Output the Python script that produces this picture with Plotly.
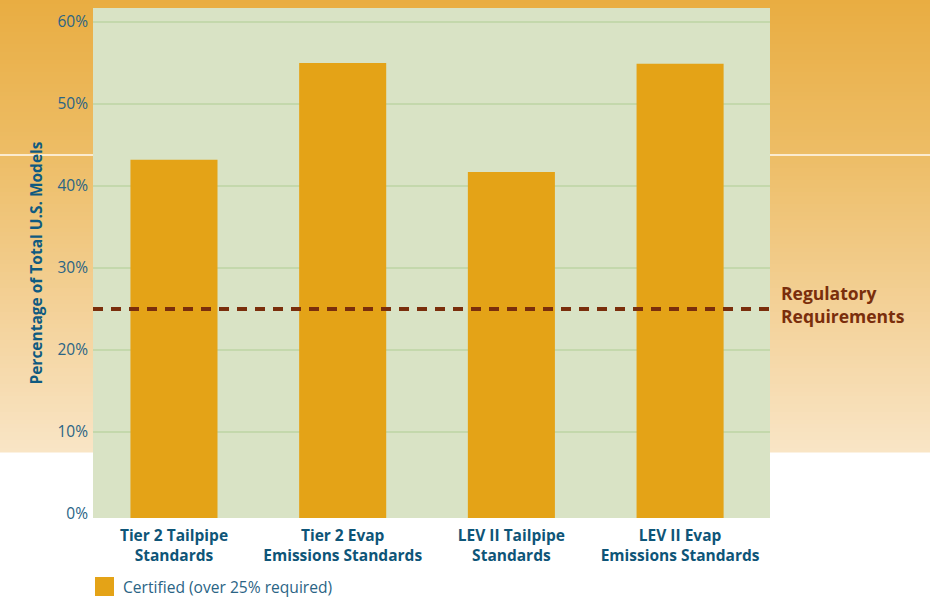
import plotly.graph_objects as go

# Data
categories = [
    "Tier 2 Tailpipe<br>Standards",
    "Tier 2 Evap<br>Emissions Standards",
    "LEV II Tailpipe<br>Standards",
    "LEV II Evap<br>Emissions Standards",
]
certified_pct = [43.2, 55.0, 41.7, 54.9]
regulatory_requirement = 25
series_name = "Certified (over 25% required)"
y_tick_vals = [0, 10, 20, 30, 40, 50, 60]
y_tick_text = ["0%", "10%", "20%", "30%", "40%", "50%", "60%"]

# Page geometry (pixels)
W, H = 930, 599
L, R, T, B = 93, 160, 8, 81
PLOT_W = W - L - R
PLOT_H = H - T - B
Y_MIN, Y_MAX = -0.49, 61.71

BAR_COLOR = "#E4A317"
PLOT_BG = "#D9E3C5"
GRID = "#C4D8AC"
TEXT_BLUE = "#2A6485"
TITLE_BLUE = "#0F5A80"
RED_BROWN = "#7A2E0C"
FONT = "Open Sans"


def px_x(px):
    return (px - L) / PLOT_W


def px_y(py):
    return (H - B - py) / PLOT_H


def lerp_color(c1, c2, t):
    a = [int(c1[i:i + 2], 16) for i in (1, 3, 5)]
    b = [int(c2[i:i + 2], 16) for i in (1, 3, 5)]
    return "#" + "".join(f"{round(a[i] + (b[i] - a[i]) * t):02X}" for i in range(3))


shapes = []

# Orange backdrop fading downward, ending above the axis labels
GRAD_END = 452
STEP = 4
stops = [(0, "#E9AD42"), (155, "#EDBD66"), (300, "#F3D095"), (GRAD_END, "#F9E5C6")]
for y0 in range(0, GRAD_END, STEP):
    y1 = min(y0 + STEP, GRAD_END)
    ym = (y0 + y1) / 2
    for (sa, ca), (sb, cb) in zip(stops[:-1], stops[1:]):
        if sa <= ym <= sb:
            col = lerp_color(ca, cb, (ym - sa) / (sb - sa))
            break
    shapes.append(dict(
        type="rect", xref="paper", yref="paper", layer="below",
        x0=px_x(0), x1=px_x(W), y0=px_y(y1 + 0.5), y1=px_y(y0),
        fillcolor=col, line=dict(width=0),
    ))

# Thin light rule across the backdrop
shapes.append(dict(
    type="line", xref="paper", yref="paper", layer="below",
    x0=px_x(0), x1=px_x(W), y0=px_y(155), y1=px_y(155),
    line=dict(color="#FBEBD0", width=2),
))

# Plot panel
shapes.append(dict(
    type="rect", xref="paper", yref="paper", layer="below",
    x0=0, x1=1, y0=0, y1=1, fillcolor=PLOT_BG, line=dict(width=0),
))

# Regulatory requirement threshold
shapes.append(dict(
    type="line", xref="paper", yref="y", layer="above",
    x0=0, x1=1, y0=regulatory_requirement, y1=regulatory_requirement,
    line=dict(color=RED_BROWN, width=4, dash="10px,8px"),
))

# Legend swatch
shapes.append(dict(
    type="rect", xref="paper", yref="paper",
    x0=px_x(95), x1=px_x(114), y0=px_y(596), y1=px_y(577),
    fillcolor=BAR_COLOR, line=dict(width=0),
))

fig = go.Figure(go.Bar(
    x=categories,
    y=[v - Y_MIN for v in certified_pct],
    base=Y_MIN,
    customdata=certified_pct,
    hovertemplate="%{x}: %{customdata}%<extra></extra>",
    name=series_name,
    marker=dict(color=BAR_COLOR, line=dict(width=0)),
    width=0.516,
    showlegend=False,
))

annotations = [
    dict(
        text="<b>Regulatory<br>Requirements</b>",
        xref="paper", yref="y", x=px_x(779), y=regulatory_requirement + 0.5,
        xanchor="left", yanchor="middle", align="left", showarrow=False,
        font=dict(family=FONT, size=17.5, color=RED_BROWN),
    ),
    dict(
        text=series_name,
        xref="paper", yref="paper", x=px_x(121), y=px_y(586.5),
        xanchor="left", yanchor="middle", showarrow=False,
        font=dict(family=FONT, size=15.6, color=TEXT_BLUE),
    ),
]

fig.update_layout(
    width=W, height=H,
    margin=dict(l=L, r=R, t=T, b=B, pad=0),
    paper_bgcolor="white",
    plot_bgcolor="rgba(0,0,0,0)",
    shapes=shapes,
    annotations=annotations,
    bargap=0.5,
    font=dict(family=FONT),
    xaxis=dict(
        range=[-0.48, 3.533],
        showgrid=False, zeroline=False, showline=False, ticks="",
        tickfont=dict(family=FONT, size=15.5, color="#0E5578", weight="bold"),
        ticklabelstandoff=6,
    ),
    yaxis=dict(
        range=[Y_MIN, Y_MAX],
        tickvals=y_tick_vals, ticktext=y_tick_text,
        showgrid=True, gridcolor=GRID, gridwidth=2,
        zeroline=True, zerolinecolor=PLOT_BG, zerolinewidth=2,
        showline=False, ticks="",
        tickfont=dict(family=FONT, size=15.5, color=TEXT_BLUE),
        ticklabelstandoff=4,
        title=dict(
            text="<b>Percentage of Total U.S. Models</b>",
            font=dict(family=FONT, size=15.5, color=TITLE_BLUE),
            standoff=11,
        ),
    ),
)

fig.write_html("out.html")
